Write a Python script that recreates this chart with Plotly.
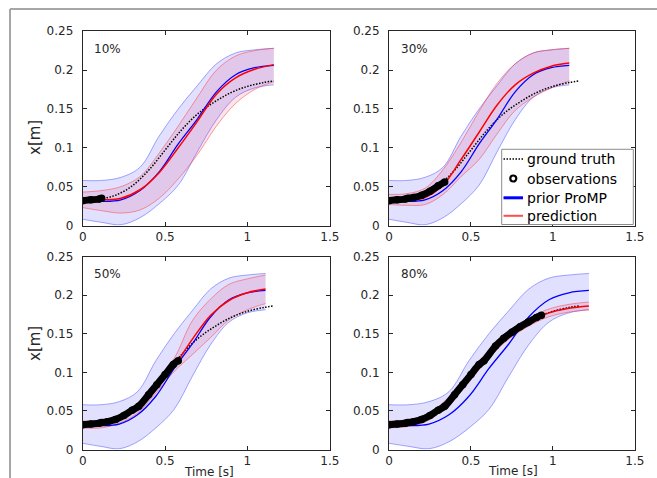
import plotly.graph_objects as go

W, H = 657, 478

# ---------------- data ----------------
phase = [0.0, 0.1, 0.2, 0.3, 0.4, 0.5, 0.6, 0.7, 0.8, 0.9, 1.0]

panel_labels = ["10%", "30%", "50%", "80%"]
durations = [1.16, 1.10, 1.11, 1.22]          # predicted duration used for each panel [s]
obs_cutoff = [0.115, 0.34, 0.58, 0.93]         # last observed time for each panel [s]

prior_mean = [0.032, 0.031, 0.033, 0.045, 0.069, 0.105, 0.137, 0.172, 0.194, 0.203, 0.206]
prior_upper = [0.058, 0.058, 0.062, 0.075, 0.115, 0.150, 0.180, 0.208, 0.222, 0.226, 0.228]
prior_lower = [0.008, 0.004, 0.001, 0.010, 0.028, 0.052, 0.095, 0.136, 0.165, 0.177, 0.181]

pred_mean = [
    [0.032, 0.033, 0.035, 0.046, 0.068, 0.100, 0.134, 0.169, 0.190, 0.201, 0.207],
    [0.032, 0.032, 0.036, 0.052, 0.085, 0.120, 0.155, 0.181, 0.196, 0.205, 0.209],
    [0.032, 0.033, 0.040, 0.053, 0.080, 0.108, 0.143, 0.174, 0.193, 0.203, 0.208],
    [0.032, 0.034, 0.042, 0.063, 0.092, 0.124, 0.148, 0.165, 0.177, 0.183, 0.186],
]
pred_upper = [
    [0.043, 0.045, 0.050, 0.063, 0.093, 0.128, 0.165, 0.200, 0.218, 0.225, 0.228],
    [0.040, 0.041, 0.048, 0.072, 0.107, 0.147, 0.183, 0.208, 0.222, 0.226, 0.228],
    [0.037, 0.038, 0.045, 0.060, 0.088, 0.118, 0.167, 0.195, 0.214, 0.221, 0.226],
    [0.037, 0.039, 0.047, 0.068, 0.097, 0.129, 0.153, 0.170, 0.182, 0.188, 0.191],
]
pred_lower = [
    [0.023, 0.019, 0.016, 0.020, 0.035, 0.060, 0.091, 0.128, 0.157, 0.175, 0.185],
    [0.027, 0.026, 0.027, 0.040, 0.063, 0.085, 0.118, 0.148, 0.165, 0.177, 0.186],
    [0.028, 0.028, 0.034, 0.047, 0.073, 0.101, 0.123, 0.145, 0.168, 0.181, 0.189],
    [0.028, 0.030, 0.038, 0.059, 0.087, 0.119, 0.143, 0.160, 0.172, 0.178, 0.181],
]

gt_t = [0.0, 0.1, 0.2, 0.3, 0.4, 0.5, 0.6, 0.7, 0.8, 0.9, 1.0, 1.1, 1.16]
gt_x = [0.032, 0.034, 0.039, 0.051, 0.071, 0.097, 0.123, 0.144, 0.159, 0.171, 0.179, 0.184, 0.186]

obs_t = [0.0, 0.05, 0.10, 0.115, 0.15, 0.20, 0.25, 0.30, 0.34, 0.40, 0.45, 0.50, 0.55, 0.58,
         0.65, 0.70, 0.75, 0.80, 0.85, 0.90, 0.93]
obs_x = [0.032, 0.033, 0.034, 0.035, 0.036, 0.039, 0.044, 0.051, 0.056, 0.071, 0.084, 0.097,
         0.110, 0.115, 0.134, 0.144, 0.152, 0.159, 0.165, 0.171, 0.174]

x_ticks = [0, 0.5, 1, 1.5]
x_ticktext = ["0", "0.5", "1", "1.5"]
y_ticks = [0, 0.05, 0.1, 0.15, 0.2, 0.25]
y_ticktext = ["0", "0.05", "0.1", "0.15", "0.2", "0.25"]

legend_names = ["ground truth", "observations", "prior ProMP", "prediction"]

# ---------------- layout geometry (pixels) ----------------
col_px = [(82.7, 329.8), (389.0, 634.8)]
row_px = [(31.2, 225.5), (256.5, 449.5)]   # (top, bottom)

FONT = "DejaVu Sans"
TXT = "#262626"

BLUE = "#0000ff"
RED = "#ff0000"
BLUE_FILL = "rgba(40,40,255,0.14)"
BLUE_EDGE = "rgba(60,60,255,0.45)"
RED_FILL = "rgba(230,40,90,0.13)"
RED_EDGE = "rgba(255,60,60,0.5)"
DOT = "1.5px,1.5px"


def px(x):
    return x / W


def py(y):
    return 1 - y / H


fig = go.Figure()
layout = dict(
    width=W, height=H, autosize=False,
    margin=dict(l=0, r=0, t=0, b=0, pad=0, autoexpand=False),
    paper_bgcolor="white", plot_bgcolor="white",
    font=dict(family=FONT, size=12, color=TXT),
    showlegend=False,
)

annotations = []
for k in range(4):
    r, c = divmod(k, 2)
    sx = "" if k == 0 else str(k + 1)
    xa, ya = "x" + sx, "y" + sx
    x0, x1 = col_px[c]
    top, bot = row_px[r]
    axcommon = dict(showline=True, linecolor=TXT, linewidth=1, mirror="ticks",
                    ticks="inside", ticklen=4, tickcolor=TXT, showgrid=False,
                    zeroline=False, automargin=False,
                    tickfont=dict(family=FONT, size=12, color=TXT))
    layout["xaxis" + sx] = dict(domain=[px(x0), px(x1)], range=[0, 1.5], anchor=ya,
                                tickvals=x_ticks, ticktext=x_ticktext, **axcommon)
    layout["yaxis" + sx] = dict(domain=[py(bot), py(top)], range=[0, 0.25], anchor=xa,
                                tickvals=y_ticks, ticktext=y_ticktext,
                                ticklabelstandoff=6, **axcommon)

    d = durations[k]
    t = [p * d for p in phase]

    # prior band
    fig.add_trace(go.Scatter(x=t, y=prior_upper, xaxis=xa, yaxis=ya, mode="lines",
                             line=dict(color=BLUE_EDGE, width=1, shape="spline"),
                             hoverinfo="skip"))
    fig.add_trace(go.Scatter(x=t, y=prior_lower, xaxis=xa, yaxis=ya, mode="lines",
                             line=dict(color=BLUE_EDGE, width=1, shape="spline"),
                             fill="tonexty", fillcolor=BLUE_FILL, hoverinfo="skip"))
    # prediction band
    fig.add_trace(go.Scatter(x=t, y=pred_upper[k], xaxis=xa, yaxis=ya, mode="lines",
                             line=dict(color=RED_EDGE, width=1, shape="spline"),
                             hoverinfo="skip"))
    fig.add_trace(go.Scatter(x=t, y=pred_lower[k], xaxis=xa, yaxis=ya, mode="lines",
                             line=dict(color=RED_EDGE, width=1, shape="spline"),
                             fill="tonexty", fillcolor=RED_FILL, hoverinfo="skip"))
    # ground truth
    fig.add_trace(go.Scatter(x=gt_t, y=gt_x, xaxis=xa, yaxis=ya, mode="lines",
                             name=legend_names[0],
                             line=dict(color="black", width=1.5, dash=DOT, shape="spline")))
    # prior mean
    fig.add_trace(go.Scatter(x=t, y=prior_mean, xaxis=xa, yaxis=ya, mode="lines",
                             name=legend_names[2],
                             line=dict(color=BLUE, width=1.3, shape="spline")))
    # prediction mean
    fig.add_trace(go.Scatter(x=t, y=pred_mean[k], xaxis=xa, yaxis=ya, mode="lines",
                             name=legend_names[3],
                             line=dict(color=RED, width=1.5, shape="spline")))
    # observations
    ot = [v for v in obs_t if v <= obs_cutoff[k] + 1e-9]
    ox = obs_x[:len(ot)]
    fig.add_trace(go.Scatter(x=ot, y=ox, xaxis=xa, yaxis=ya, mode="lines+markers",
                             name=legend_names[1],
                             line=dict(color="black", width=7, shape="spline"),
                             marker=dict(color="black", size=7.5, symbol="circle")))

    annotations.append(dict(x=0.058, y=0.227, xref=xa, yref=ya, text=panel_labels[k],
                            showarrow=False, xanchor="left", yanchor="middle",
                            font=dict(family=FONT, size=12, color=TXT)))

# axis titles
annotations += [
    dict(x=px(35), y=py(138), xref="paper", yref="paper", text="x[m]", textangle=-90,
         xanchor="center", yanchor="middle",
         showarrow=False, font=dict(family=FONT, size=15, color=TXT)),
    dict(x=px(35), y=py(344), xref="paper", yref="paper", text="x[m]", textangle=-90,
         xanchor="center", yanchor="middle",
         showarrow=False, font=dict(family=FONT, size=15, color=TXT)),
    dict(x=px(209), y=py(471.5), xref="paper", yref="paper", text="Time [s]",
         xanchor="center", yanchor="middle",
         showarrow=False, font=dict(family=FONT, size=12, color=TXT)),
    dict(x=px(513), y=py(471), xref="paper", yref="paper", text="Time [s]",
         xanchor="center", yanchor="middle",
         showarrow=False, font=dict(family=FONT, size=12, color=TXT)),
]

# ---- legend box (drawn like the original, inside the 30% panel) ----
LEG_L, LEG_R, LEG_T, LEG_B = 501.7, 633.3, 149.3, 224.5
row_y = [159.0, 178.5, 197.8, 215.8]
shapes = [
    dict(type="rect", xref="paper", yref="paper", x0=px(LEG_L), x1=px(LEG_R),
         y0=py(LEG_B), y1=py(LEG_T), fillcolor="white",
         line=dict(color="#8c8c8c", width=1), layer="above"),
    dict(type="line", xref="paper", yref="paper", x0=px(503.5), x1=px(523), y0=py(row_y[0]),
         y1=py(row_y[0]), line=dict(color="black", width=1.3, dash=DOT)),
    dict(type="circle", xref="paper", yref="paper", x0=px(510.3), x1=px(516.3),
         y0=py(row_y[1] + 3), y1=py(row_y[1] - 3), fillcolor="white",
         line=dict(color="black", width=2.2)),
    dict(type="line", xref="paper", yref="paper", x0=px(503.5), x1=px(523), y0=py(row_y[2]),
         y1=py(row_y[2]), line=dict(color=BLUE, width=3)),
    dict(type="line", xref="paper", yref="paper", x0=px(503.5), x1=px(523), y0=py(row_y[3]),
         y1=py(row_y[3]), line=dict(color="#ff4d4d", width=2)),
]
for name, yy in zip(legend_names, row_y):
    annotations.append(dict(x=px(524.5), y=py(yy), xref="paper", yref="paper", text=name,
                            showarrow=False, xanchor="left", yanchor="middle",
                            font=dict(family=FONT, size=14, color="black")))

# outer grey frame (partially visible)
shapes += [
    dict(type="line", xref="paper", yref="paper", x0=px(10), x1=1, y0=py(9), y1=py(9),
         line=dict(color="#a6a6a6", width=2)),
    dict(type="line", xref="paper", yref="paper", x0=px(10), x1=px(10), y0=0, y1=py(9),
         line=dict(color="#a6a6a6", width=2)),
]

layout["annotations"] = annotations
layout["shapes"] = shapes

fig.update_layout(**layout)
fig.write_html("out.html")
